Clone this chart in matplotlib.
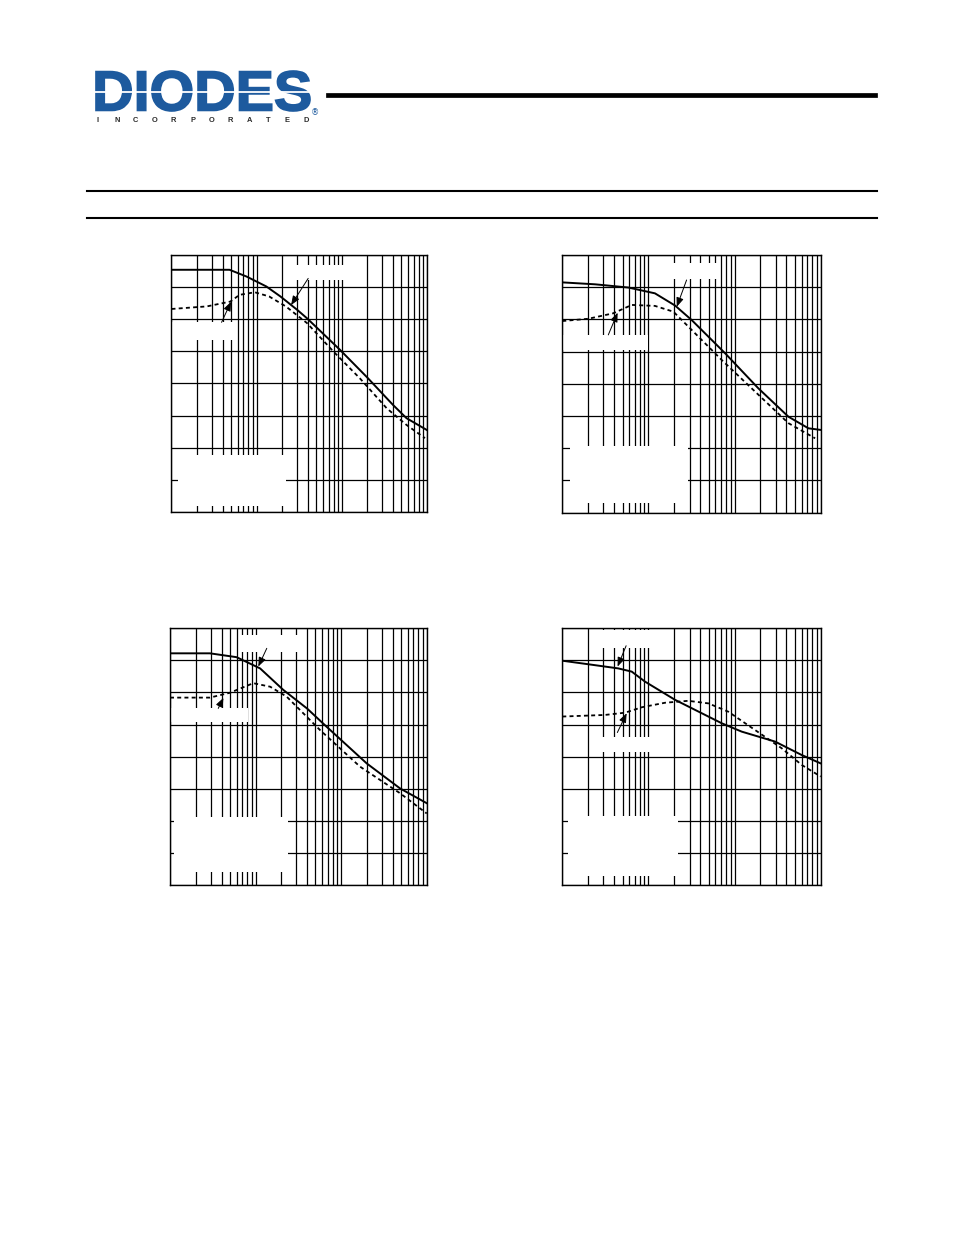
"""
Datasheet page: four typical characteristic plots on log-x grids,
with the DIODES header. Label text is blanked out as in the reference.
"""
import numpy as np
import matplotlib.pyplot as plt
from matplotlib.patches import Rectangle, PathPatch
from matplotlib.textpath import TextPath
from matplotlib.font_manager import FontProperties
from matplotlib.transforms import Affine2D
from matplotlib.lines import Line2D

W, H = 954, 1235

# ---- curve data (x on log axis 1..1000, y in grid divisions 0..8) ----
p1_solid_x = [1, 4.8, 7.6, 13, 19, 30, 39, 95, 195, 400, 575, 1000]
p1_solid_y = [7.54, 7.54, 7.33, 7.02, 6.71, 6.29, 6.03, 5.05, 4.21, 3.33, 2.92, 2.55]
p1_dash_x = [1, 2.6, 4.9, 6.3, 9.5, 14, 22, 39, 80, 163, 336, 575, 946]
p1_dash_y = [6.32, 6.40, 6.55, 6.76, 6.84, 6.71, 6.40, 5.88, 4.99, 4.16, 3.23, 2.71, 2.30]

p2_solid_x = [1, 2.4, 5.85, 11.9, 20.4, 31.8, 77.6, 189, 422, 720, 1000]
p2_solid_y = [7.15, 7.09, 6.99, 6.81, 6.43, 5.98, 4.95, 3.86, 2.98, 2.62, 2.57]
p2_dash_x = [1, 2.0, 3.9, 6.4, 11.9, 19.5, 29, 71, 173, 422, 861]
p2_dash_y = [5.95, 6.02, 6.19, 6.45, 6.42, 6.24, 5.78, 4.74, 3.76, 2.78, 2.31]

p3_solid_x = [1, 2.93, 6.0, 11.3, 21.1, 40, 67.8, 199, 488, 1000]
p3_solid_y = [7.22, 7.22, 7.10, 6.75, 6.08, 5.50, 4.93, 3.79, 3.01, 2.55]
p3_dash_x = [1, 2.93, 5.0, 9.4, 14.8, 23.1, 56.6, 166, 488, 1000]
p3_dash_y = [5.84, 5.84, 5.99, 6.29, 6.18, 5.87, 4.83, 3.69, 2.86, 2.23]

p4_solid_x = [1, 2.0, 4.47, 6.4, 9.1, 20.4, 71, 121, 295, 603, 1000]
p4_solid_y = [6.99, 6.88, 6.75, 6.65, 6.34, 5.77, 5.04, 4.78, 4.47, 4.05, 3.79]
p4_dash_x = [1, 3.13, 5.35, 8.4, 15.6, 29, 49.7, 84.7, 173, 353, 603, 1000]
p4_dash_y = [5.25, 5.30, 5.37, 5.54, 5.68, 5.74, 5.66, 5.40, 4.83, 4.26, 3.74, 3.38]

# axes boxes in page pixels: left, top, right, bottom
panels = [
    dict(box=(171.5, 255, 427, 512), sx=p1_solid_x, sy=p1_solid_y, dx=p1_dash_x, dy=p1_dash_y,
         blanks=[(0.024, 0.025, 0.424, 0.197), (0.452, 0.903, 0.227, 0.058), (0.002, 0.669, 0.239, 0.070)],
         arrows=[((0.233, 0.818), (0.196, 0.738)), ((0.468, 0.805), (0.535, 0.909))]),
    dict(box=(562.3, 255, 820.7, 512.7), sx=p2_solid_x, sy=p2_solid_y, dx=p2_dash_x, dy=p2_dash_y,
         blanks=[(0.030, 0.038, 0.456, 0.221), (0.409, 0.906, 0.197, 0.063), (0.003, 0.631, 0.329, 0.058)],
         arrows=[((0.443, 0.799), (0.481, 0.903)), ((0.214, 0.776), (0.178, 0.690))]),
    dict(box=(170, 628.3, 426.7, 885), sx=p3_solid_x, sy=p3_solid_y, dx=p3_dash_x, dy=p3_dash_y,
         blanks=[(0.016, 0.051, 0.444, 0.214), (0.269, 0.908, 0.237, 0.066), (0.004, 0.635, 0.300, 0.055)],
         arrows=[((0.344, 0.851), (0.377, 0.922)), ((0.208, 0.729), (0.188, 0.688))]),
    dict(box=(562.3, 628.3, 820.7, 885), sx=p4_solid_x, sy=p4_solid_y, dx=p4_dash_x, dy=p4_dash_y,
         blanks=[(0.022, 0.035, 0.426, 0.234), (0.138, 0.923, 0.209, 0.070), (0.138, 0.518, 0.209, 0.059)],
         arrows=[((0.214, 0.851), (0.247, 0.932)), ((0.249, 0.669), (0.213, 0.594))]),
]

fig = plt.figure(figsize=(W / 100, H / 100), dpi=100)


def fx(px):
    return px / W


def fy(py):
    return 1 - py / H


for p in panels:
    l, t, r, b = p['box']
    ax = fig.add_axes([fx(l), fy(b), (r - l) / W, (b - t) / H])
    ax.set_xscale('log')
    ax.set_xlim(1, 1000)
    ax.set_ylim(0, 8)
    ax.set_yticks(range(9))
    ax.set_axisbelow(True)
    ax.grid(which='both', axis='x', color='k', lw=0.9)
    ax.grid(which='major', axis='y', color='k', lw=0.9)
    ax.tick_params(which='both', length=0, labelbottom=False, labelleft=False)
    for s in ax.spines.values():
        s.set_linewidth(1.0)
    for (x0, y0, w, h) in p['blanks']:
        ax.add_patch(Rectangle((x0, y0), w, h, transform=ax.transAxes,
                               fc='white', ec='none', zorder=1))
    ax.plot(p['sx'], p['sy'], color='k', lw=1.4, zorder=3)
    ax.plot(p['dx'], p['dy'], color='k', lw=1.3, dashes=(2.2, 1.8), zorder=3)
    for head, tail in p['arrows']:
        ax.annotate('', xy=head, xytext=tail, xycoords='axes fraction',
                    arrowprops=dict(arrowstyle='-|>,head_length=0.55,head_width=0.22',
                                    color='k', lw=0.7, shrinkA=0, shrinkB=0), zorder=4)

# ---- header ----
blue = '#1d5a9e'
tp = TextPath((0, 0), 'DIODES', size=1, prop=FontProperties(family='Liberation Sans', weight='bold'))
ext = tp.get_extents()
sxf = (310 - 96) / W / ext.width
syf = (111 - 71) / H / ext.height
tr = Affine2D().translate(-ext.x0, -ext.y0).scale(sxf, syf).translate(fx(96), fy(111))
fig.add_artist(PathPatch(tp, transform=tr + fig.transFigure, fc=blue, ec=blue, lw=1.2))
fig.add_artist(Line2D([fx(95), fx(311)], [fy(92), fy(92)], color='white', lw=1.3,
                      transform=fig.transFigure))

for ch, xp in zip('INCORPORATED', np.linspace(98, 306, 12)):
    fig.text(fx(xp), fy(120), ch, ha='center', va='center', fontsize=5.4,
             fontweight='bold', color='#2b2b2b', family='Liberation Sans')
fig.text(fx(315), fy(113), '\u00ae', ha='center', va='center', fontsize=6,
         color=blue, family='DejaVu Sans')

fig.add_artist(Line2D([fx(328), fx(875)], [fy(94.5), fy(94.5)], color='k', lw=3.4,
                      transform=fig.transFigure))
for yy in (190.5, 217.5):
    fig.add_artist(Line2D([fx(87), fx(877)], [fy(yy), fy(yy)], color='k', lw=1.5,
                          transform=fig.transFigure))

fig.savefig('out.png', dpi=100)
